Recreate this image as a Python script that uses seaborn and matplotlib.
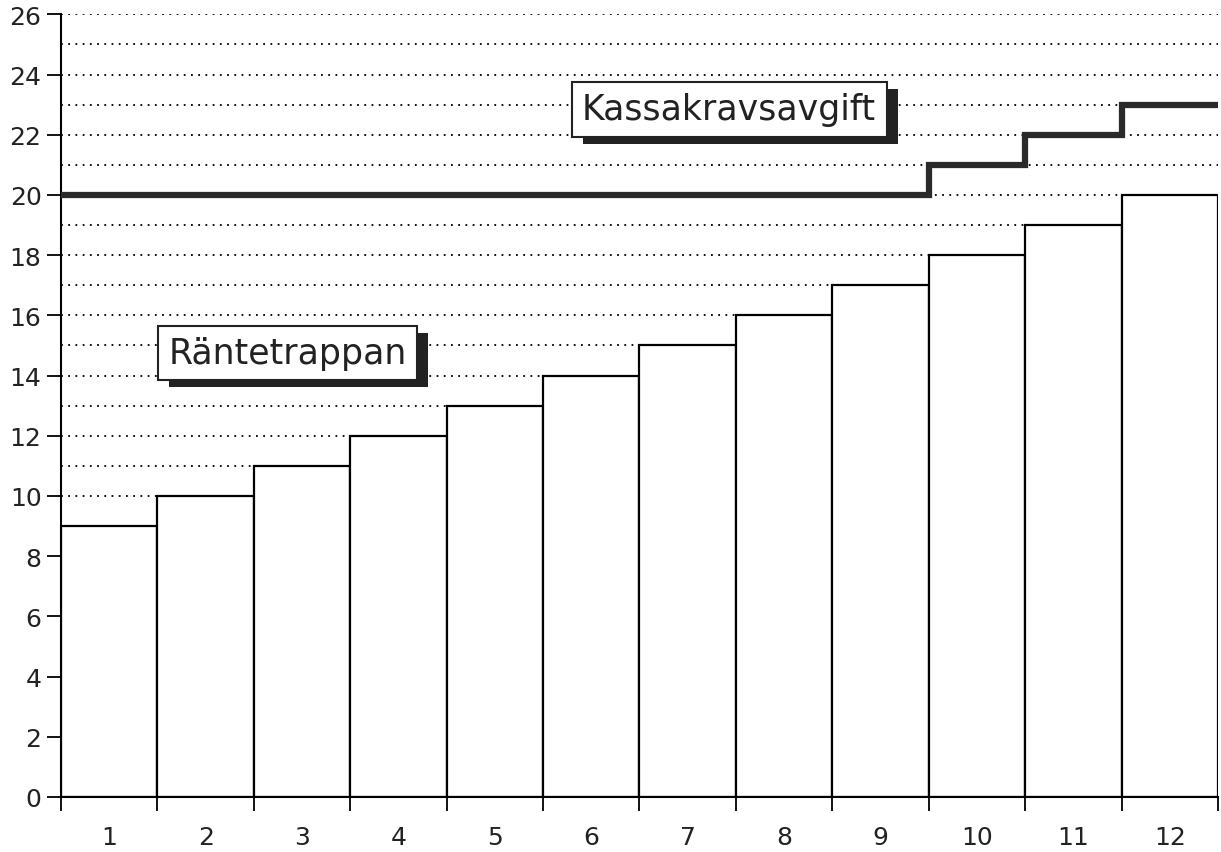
import numpy as np
import pandas as pd
import matplotlib.pyplot as plt
import matplotlib.patheffects as pe
from matplotlib.ticker import MultipleLocator, FixedLocator
import seaborn as sns

months = [1, 2, 3, 4, 5, 6, 7, 8, 9, 10, 11, 12]
rate_steps = [9, 10, 11, 12, 13, 14, 15, 16, 17, 18, 19, 20]
cash_fee = [20, 20, 20, 20, 20, 20, 20, 20, 20, 21, 22, 23]
y_ticks = list(range(0, 27, 2))

df = pd.DataFrame({"month": months, "rate": rate_steps})

sns.set_style("white")
plt.rcParams["font.family"] = ["DejaVu Sans"]

fig = plt.figure(figsize=(12.21, 8.53), dpi=100)
ax = fig.add_axes([0.05, 0.0645, 0.9475, 0.9175])

sns.barplot(data=df, x="month", y="rate", color="white", edgecolor="black",
            linewidth=1.6, width=1.0, saturation=1, ax=ax, zorder=2)

edges = np.arange(len(months) + 1) - 0.5
ax.stairs(cash_fee, edges, color="#2a2a2a", linewidth=4.5, zorder=3, baseline=None)

ax.set_xlim(edges[0], edges[-1])
ax.set_ylim(0, 26)
ax.set_yticks(y_ticks)
ax.yaxis.set_minor_locator(MultipleLocator(1))
ax.grid(which="both", axis="y", color="black", linestyle=(0, (1, 3)), linewidth=1.3)
ax.set_axisbelow(True)

# x ticks at bar boundaries, labels centred under bars
ax.xaxis.set_major_locator(FixedLocator(edges))
ax.set_xticklabels([])
ax.set_xticks(np.arange(len(months)), [str(m) for m in months], minor=True)
ax.tick_params(axis="x", which="major", bottom=True, length=10, width=1.3, color="black",
               direction="out")
ax.tick_params(axis="x", which="minor", bottom=True, length=0, labelsize=18, pad=20,
               labelcolor="#222")
ax.tick_params(axis="y", which="major", left=True, length=10, width=1.3, color="black",
               direction="out", labelsize=18, labelcolor="#222", pad=4)
ax.tick_params(axis="y", which="minor", left=False, length=0)
ax.set_xlabel("")
ax.set_ylabel("")

for s in ["top", "right"]:
    ax.spines[s].set_visible(False)
for s in ["left", "bottom"]:
    ax.spines[s].set_color("black")
    ax.spines[s].set_linewidth(1.5)

shadow = [pe.withSimplePatchShadow(offset=(8, -5), shadow_rgbFace="#222", alpha=1)]
for label, xy in [("Räntetrappan", (1.85, 14.75)), ("Kassakravsavgift", (6.43, 22.85))]:
    t = ax.text(*xy, label, ha="center", va="center", fontsize=25, color="#222", zorder=5,
                bbox=dict(boxstyle="square,pad=0.3", fc="white", ec="#222", lw=1.5))
    t.get_bbox_patch().set_path_effects(shadow)

fig.savefig("out.png", dpi=100)
